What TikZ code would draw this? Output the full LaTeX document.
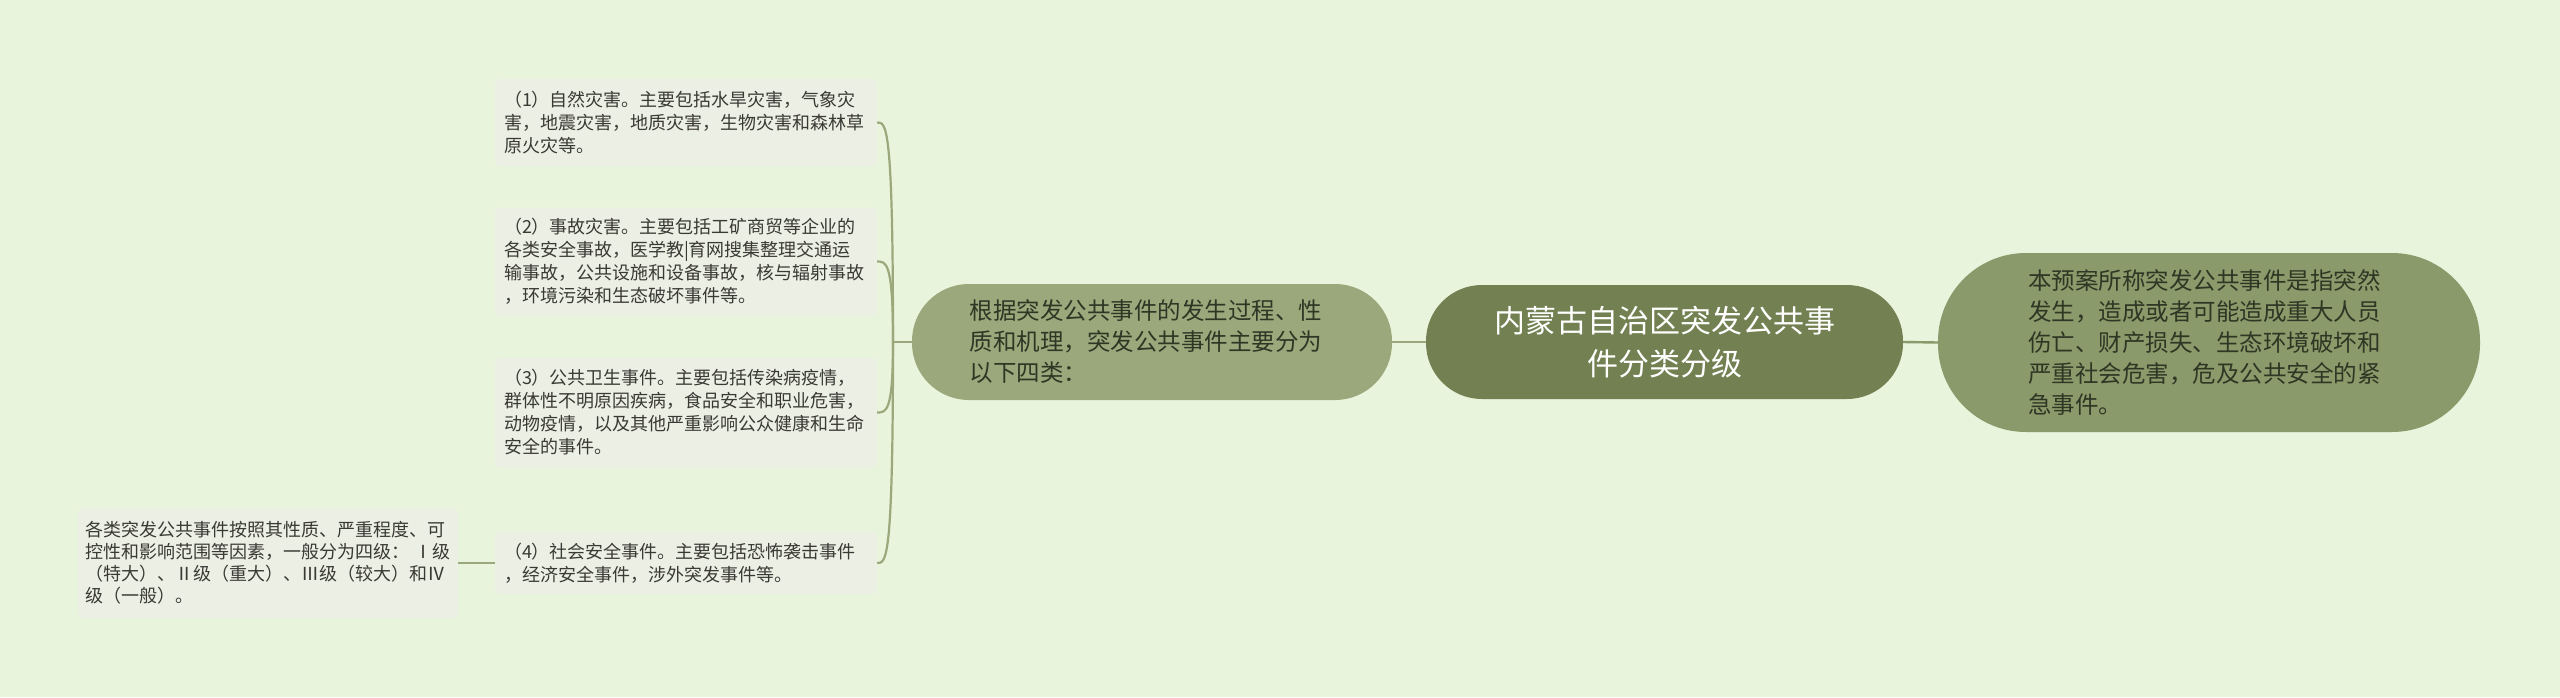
\documentclass[tikz,border=0pt]{standalone}
\usepackage{fontspec}
\setmainfont{Noto Sans CJK SC}
\usetikzlibrary{calc}
\definecolor{bg}{HTML}{E8F4DC}
\definecolor{leaffill}{HTML}{ECEFE4}
\definecolor{leaftext}{HTML}{3A3A34}
\definecolor{nodetext}{HTML}{2E3624}
\definecolor{centerfill}{HTML}{738152}
\definecolor{midfill}{HTML}{9AA87C}
\definecolor{rightfill}{HTML}{8A9A6A}
\definecolor{linecol}{HTML}{9AA87C}
\definecolor{linedark}{HTML}{8A9A6A}
\begin{document}
\begin{tikzpicture}[x=1pt,y=-1pt,
  leaf/.style={fill=leaffill, rounded corners=5pt, minimum width=382pt, text width=364pt,
    align=left, inner sep=0pt, font=\fontsize{18}{23}\selectfont, text=leaftext},
  pill/.style={inner sep=0pt, align=left, font=\fontsize{23.5}{31}\selectfont, text=nodetext},
  conn/.style={draw=linecol, line width=2.4pt},
  conndark/.style={draw=linedark, line width=2.4pt}]
\fill[bg] (0,0) rectangle (2560,697);
\useasboundingbox (0,0) rectangle (2560,697);

% center node
\node[fill=centerfill, rounded corners=56pt, minimum width=477pt, minimum height=114pt,
  inner sep=0pt, align=center, text=white, font=\fontsize{31}{43}\selectfont]
  (center) at (1664.5,342) {内蒙古自治区突发公共事\\件分类分级};

% right node
\node[pill, fill=rightfill, rounded corners=88pt, minimum width=542pt, minimum height=179pt,
  text width=362pt] (right) at (2209,342.5)
  {本预案所称突发公共事件是指突然\\发生，造成或者可能造成重大人员\\伤亡、财产损失、生态环境破坏和\\严重社会危害，危及公共安全的紧\\急事件。};

% middle node
\node[pill, fill=midfill, rounded corners=57pt, minimum width=480pt, minimum height=116pt,
  text width=365pt] (mid) at (1152,342)
  {根据突发公共事件的发生过程、性\\质和机理，突发公共事件主要分为\\以下四类：};

% leaves
\node[leaf, minimum height=87pt] (l1) at (686,122.5)
  {（1）自然灾害。主要包括水旱灾害，气象灾\\害，地震灾害，地质灾害，生物灾害和森林草\\原火灾等。};
\node[leaf, minimum height=108pt] (l2) at (686,261.5)
  {（2）事故灾害。主要包括工矿商贸等企业的\\各类安全事故，医学教|育网搜集整理交通运\\输事故，公共设施和设备事故，核与辐射事故\\，环境污染和生态破坏事件等。};
\node[leaf, minimum height=109pt] (l3) at (686,412.5)
  {（3）公共卫生事件。主要包括传染病疫情，\\群体性不明原因疾病，食品安全和职业危害，\\动物疫情，以及其他严重影响公众健康和生命\\安全的事件。};
\node[leaf, minimum height=62pt] (l4) at (686,563)
  {（4）社会安全事件。主要包括恐怖袭击事件\\，经济安全事件，涉外突发事件等。};

% far-left node
\node[leaf, minimum width=380pt, text width=366pt, minimum height=110pt,
  font=\fontsize{18}{22}\selectfont] (fl) at (268,563)
  {各类突发公共事件按照其性质、严重程度、可\\控性和影响范围等因素，一般分为四级：~Ⅰ级\\（特大）、Ⅱ级（重大）、Ⅲ级（较大）和Ⅳ\\级（一般）。};

% connectors
\draw[conn] (center.west) -- (mid.east);
\draw[conndark] (center.east) -- (right.west);
\coordinate (br) at (893,342);
\draw[conn] (mid.west) -- (br);
\foreach \l in {l1,l2,l3,l4}{
  \draw[conn, line width=2.2pt] (br) .. controls (br |- \l.east) and ($(\l.east)+(9,0)$) .. (\l.east);
}
\draw[conn] (l4.west) -- (fl.east);
\end{tikzpicture}
\end{document}
